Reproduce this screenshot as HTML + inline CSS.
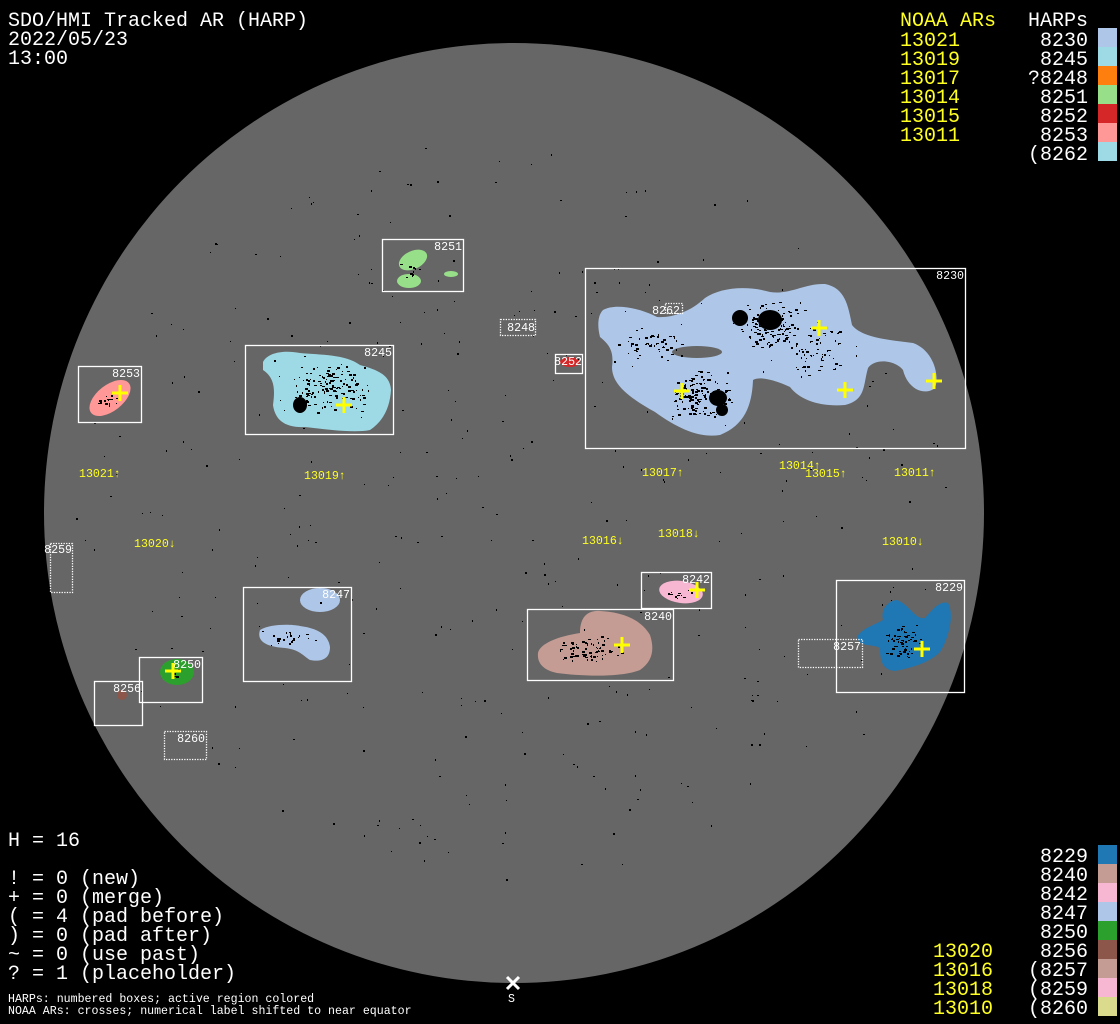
<!DOCTYPE html>
<html><head><meta charset="utf-8"><style>
html,body{margin:0;padding:0;background:#000;}
svg{display:block;}
text{font-family:"Liberation Mono","DejaVu Sans Mono",monospace;}
.big{font-size:20px;fill:#fff;}
.y{fill:#ffff22;}
.sm{font-size:11.6px;fill:#fff;}
.ys{font-size:11.6px;fill:#ffff22;}
.box{fill:none;stroke:#fff;stroke-width:1.3;}
.dot{fill:none;stroke:#fff;stroke-width:1.3;stroke-dasharray:1.3 1.3;}
.cr{stroke:#ffff00;stroke-width:3;}
</style></head><body>
<svg id="s" width="1120" height="1024" viewBox="0 0 1120 1024" xmlns="http://www.w3.org/2000/svg">
<rect width="1120" height="1024" fill="#000"/>
<circle cx="514" cy="513" r="470" fill="#666666"/>
<g id="blobs">
<path fill="#aec7e8" d="M603,310 C615,303 640,308 657,317 C672,318 690,312 705,298 C720,288 745,285 770,292 C790,295 805,283 825,284 C845,288 848,305 852,325 C862,338 890,340 913,343 C933,350 940,375 935,388 C925,396 908,390 903,370 C895,360 875,358 868,368 C863,385 866,400 845,405 C820,407 800,400 790,387 C775,380 760,376 753,380 C752,405 745,425 720,435 C700,438 680,430 655,412 C630,398 612,385 612,367 C614,352 610,345 600,337 C597,325 598,315 603,310 Z"/>
<ellipse cx="697" cy="352" rx="25" ry="6" fill="#666666"/>
<path fill="#9edae5" d="M263,362 C268,352 285,350 300,353 C320,355 345,354 360,365 C378,370 390,375 391,390 C390,405 385,420 370,430 C355,433 330,430 305,427 C285,428 275,420 273,405 C275,390 275,378 263,370 Z"/>
<ellipse cx="110" cy="398" rx="24" ry="13" transform="rotate(-38 110 398)" fill="#ff9896"/>
<ellipse cx="413" cy="260" rx="15" ry="9" transform="rotate(-25 413 260)" fill="#98df8a"/>
<ellipse cx="409" cy="281" rx="12" ry="7" fill="#98df8a"/>
<ellipse cx="451" cy="274" rx="7" ry="3" fill="#98df8a"/>
<ellipse cx="570" cy="362" rx="10" ry="5" fill="#d62728"/>
<ellipse cx="320" cy="600" rx="20" ry="12" fill="#aec7e8"/>
<path fill="#aec7e8" d="M260,630 C270,624 290,624 300,626 C315,628 328,633 330,647 C330,660 320,662 310,660 C302,655 300,650 285,648 C268,647 256,642 260,630 Z"/>
<ellipse cx="177" cy="672" rx="17" ry="13" fill="#2ca02c"/>
<circle cx="122" cy="695" r="5" fill="#8c564b"/>
<path fill="#c49c94" d="M538,653 C540,643 560,636 580,633 C580,620 585,610 600,611 C620,612 640,618 650,635 C655,650 652,662 640,670 C620,678 580,676 557,673 C542,670 537,662 538,653 Z"/>
<ellipse cx="681" cy="592" rx="22" ry="11" transform="rotate(8 681 592)" fill="#f7b6d2"/>
<path fill="#1f77b4" d="M857,637 C862,628 875,625 883,620 C880,608 890,600 897,600 C910,605 915,620 925,618 C932,610 940,600 948,603 C955,615 948,640 940,652 C930,662 915,667 895,671 C882,670 880,660 880,648 C870,643 860,648 857,637 Z"/>
</g>
<g id="spk" fill="#000"></g>
<rect class="box" x="585.5" y="268.5" width="380" height="180"/>
<rect class="box" x="382.5" y="239.5" width="81" height="52"/>
<rect class="dot" x="500.5" y="319.5" width="35" height="16"/>
<rect class="box" x="555.5" y="354.5" width="27" height="19"/>
<rect class="box" x="245.5" y="345.5" width="148" height="89"/>
<rect class="box" x="78.5" y="366.5" width="63" height="56"/>
<rect class="dot" x="50.5" y="543.5" width="22" height="49"/>
<rect class="box" x="243.5" y="587.5" width="108" height="94"/>
<rect class="box" x="139.5" y="657.5" width="63" height="45"/>
<rect class="box" x="94.5" y="681.5" width="48" height="44"/>
<rect class="dot" x="164.5" y="731.5" width="42" height="28"/>
<rect class="box" x="527.5" y="609.5" width="146" height="71"/>
<rect class="box" x="641.5" y="572.5" width="70" height="36"/>
<rect class="box" x="836.5" y="580.5" width="128" height="112"/>
<rect class="dot" x="798.5" y="639.5" width="64" height="28"/>
<rect class="dot" x="665.5" y="303.5" width="17" height="10"/>
<g class="sm" text-anchor="end">
<text x="964" y="279">8230</text>
<text x="462" y="250">8251</text>
<text x="535" y="331">8248</text>
<text x="582" y="365">8252</text>
<text x="392" y="356">8245</text>
<text x="140" y="377">8253</text>
<text x="72" y="553">8259</text>
<text x="350" y="598">8247</text>
<text x="201" y="668">8250</text>
<text x="141" y="692">8256</text>
<text x="205" y="742">8260</text>
<text x="672" y="620">8240</text>
<text x="710" y="583">8242</text>
<text x="963" y="591">8229</text>
<text x="861" y="650">8257</text>
<text x="680" y="314">8262</text>
</g>
<g class="ys">
<text x="79" y="477">13021↑</text>
<text x="304" y="479">13019↑</text>
<text x="642" y="476">13017↑</text>
<text x="779" y="469">13014↑</text>
<text x="805" y="477">13015↑</text>
<text x="894" y="476">13011↑</text>
<text x="134" y="547">13020↓</text>
<text x="582" y="544">13016↓</text>
<text x="658" y="537">13018↓</text>
<text x="882" y="545">13010↓</text>
</g>
<g id="crosses"></g>
<g class="big">
<text x="8" y="26">SDO/HMI Tracked AR (HARP)</text>
<text x="8" y="45">2022/05/23</text>
<text x="8" y="64">13:00</text>
</g>
<g class="big y">
<text x="900" y="26">NOAA ARs</text>
<text x="900" y="46">13021</text>
<text x="900" y="65">13019</text>
<text x="900" y="84">13017</text>
<text x="900" y="103">13014</text>
<text x="900" y="122">13015</text>
<text x="900" y="141">13011</text>
</g>
<g class="big" text-anchor="end">
<text x="1088" y="26">HARPs</text>
<text x="1088" y="46">8230</text>
<text x="1088" y="65">8245</text>
<text x="1088" y="84">?8248</text>
<text x="1088" y="103">8251</text>
<text x="1088" y="122">8252</text>
<text x="1088" y="141">8253</text>
<text x="1088" y="160">(8262</text>
</g>
<rect x="1098" y="28" width="19" height="19" fill="#aec7e8"/>
<rect x="1098" y="47" width="19" height="19" fill="#9edae5"/>
<rect x="1098" y="66" width="19" height="19" fill="#ff7f0e"/>
<rect x="1098" y="85" width="19" height="19" fill="#98df8a"/>
<rect x="1098" y="104" width="19" height="19" fill="#d62728"/>
<rect x="1098" y="123" width="19" height="19" fill="#ff9896"/>
<rect x="1098" y="142" width="19" height="19" fill="#9edae5"/>
<g class="big">
<text x="8" y="846">H = 16</text>
<text x="8" y="884">! = 0 (new)</text>
<text x="8" y="903">+ = 0 (merge)</text>
<text x="8" y="922">( = 4 (pad before)</text>
<text x="8" y="941">) = 0 (pad after)</text>
<text x="8" y="960">~ = 0 (use past)</text>
<text x="8" y="979">? = 1 (placeholder)</text>
</g>
<text class="sm" x="8" y="1002">HARPs: numbered boxes; active region colored</text>
<text class="sm" x="8" y="1014">NOAA ARs: crosses; numerical label shifted to near equator</text>
<g class="big" text-anchor="end">
<text x="1088" y="862">8229</text>
<text x="1088" y="881">8240</text>
<text x="1088" y="900">8242</text>
<text x="1088" y="919">8247</text>
<text x="1088" y="938">8250</text>
<text x="1088" y="957">8256</text>
<text x="1088" y="976">(8257</text>
<text x="1088" y="995">(8259</text>
<text x="1088" y="1014">(8260</text>
</g>
<g class="big y">
<text x="933" y="957">13020</text>
<text x="933" y="976">13016</text>
<text x="933" y="995">13018</text>
<text x="933" y="1014">13010</text>
</g>
<rect x="1098" y="845" width="19" height="19" fill="#1f77b4"/>
<rect x="1098" y="864" width="19" height="19" fill="#c49c94"/>
<rect x="1098" y="883" width="19" height="19" fill="#f7b6d2"/>
<rect x="1098" y="902" width="19" height="19" fill="#aec7e8"/>
<rect x="1098" y="921" width="19" height="19" fill="#2ca02c"/>
<rect x="1098" y="940" width="19" height="19" fill="#8c564b"/>
<rect x="1098" y="959" width="19" height="19" fill="#c49c94"/>
<rect x="1098" y="978" width="19" height="19" fill="#f7b6d2"/>
<rect x="1098" y="997" width="19" height="19" fill="#dbdb8d"/>
<path d="M507,977 L519,989 M519,977 L507,989" stroke="#fff" stroke-width="3"/>
<text class="sm" x="508" y="1002">S</text>
</svg>
<script>
(function(){
var ns="http://www.w3.org/2000/svg";
var g=document.getElementById("spk");
var seed=12345;function r(){seed=(seed*1103515245+12345)&0x7fffffff;return seed/0x7fffffff;}
function dot(x,y,w,h){var e=document.createElementNS(ns,"rect");e.setAttribute("x",x|0);e.setAttribute("y",y|0);e.setAttribute("width",w);e.setAttribute("height",h);g.appendChild(e);}
for(var i=0;i<380;i++){var a=r()*6.283,d=Math.sqrt(r())*440;var x=514+d*Math.cos(a),y=513+d*Math.sin(a)*0.85;dot(x,y,r()<0.7?1:2,r()<0.6?1:2);}
var cl=[[700,395,35,25,140],[770,325,40,25,130],[815,350,30,30,60],[650,345,35,20,50],[330,390,45,28,140],[108,400,10,8,15],[590,650,40,15,70],[905,640,20,22,60],[295,638,25,8,20],[680,595,15,6,12],[410,270,12,8,10],[175,672,8,6,6]];
cl.forEach(function(c){for(var i=0;i<c[4];i++){var x=c[0]+(r()+r()-1)*c[2],y=c[1]+(r()+r()-1)*c[3];dot(x,y,1+Math.floor(r()*3),1+Math.floor(r()*2));}});
[[770,320,12,10],[740,318,8,8],[718,398,9,8],[300,405,7,8],[432,452,6,6]].forEach(function(b){var e=document.createElementNS(ns,"ellipse");e.setAttribute("cx",b[0]);e.setAttribute("cy",b[1]);e.setAttribute("rx",b[2]);e.setAttribute("ry",b[3]);if(b[0]==432){e.setAttribute("cx",722);e.setAttribute("cy",410);}g.appendChild(e);});
var cg=document.getElementById("crosses");
[[120,393],[344,405],[819,328],[682,391],[845,390],[934,381],[622,645],[697,590],[922,649],[173,671]].forEach(function(p){var e=document.createElementNS(ns,"path");e.setAttribute("d","M"+(p[0]-8)+","+p[1]+"H"+(p[0]+8)+"M"+p[0]+","+(p[1]-8)+"V"+(p[1]+8));e.setAttribute("class","cr");cg.appendChild(e);});
})();
</script>
</body></html>
